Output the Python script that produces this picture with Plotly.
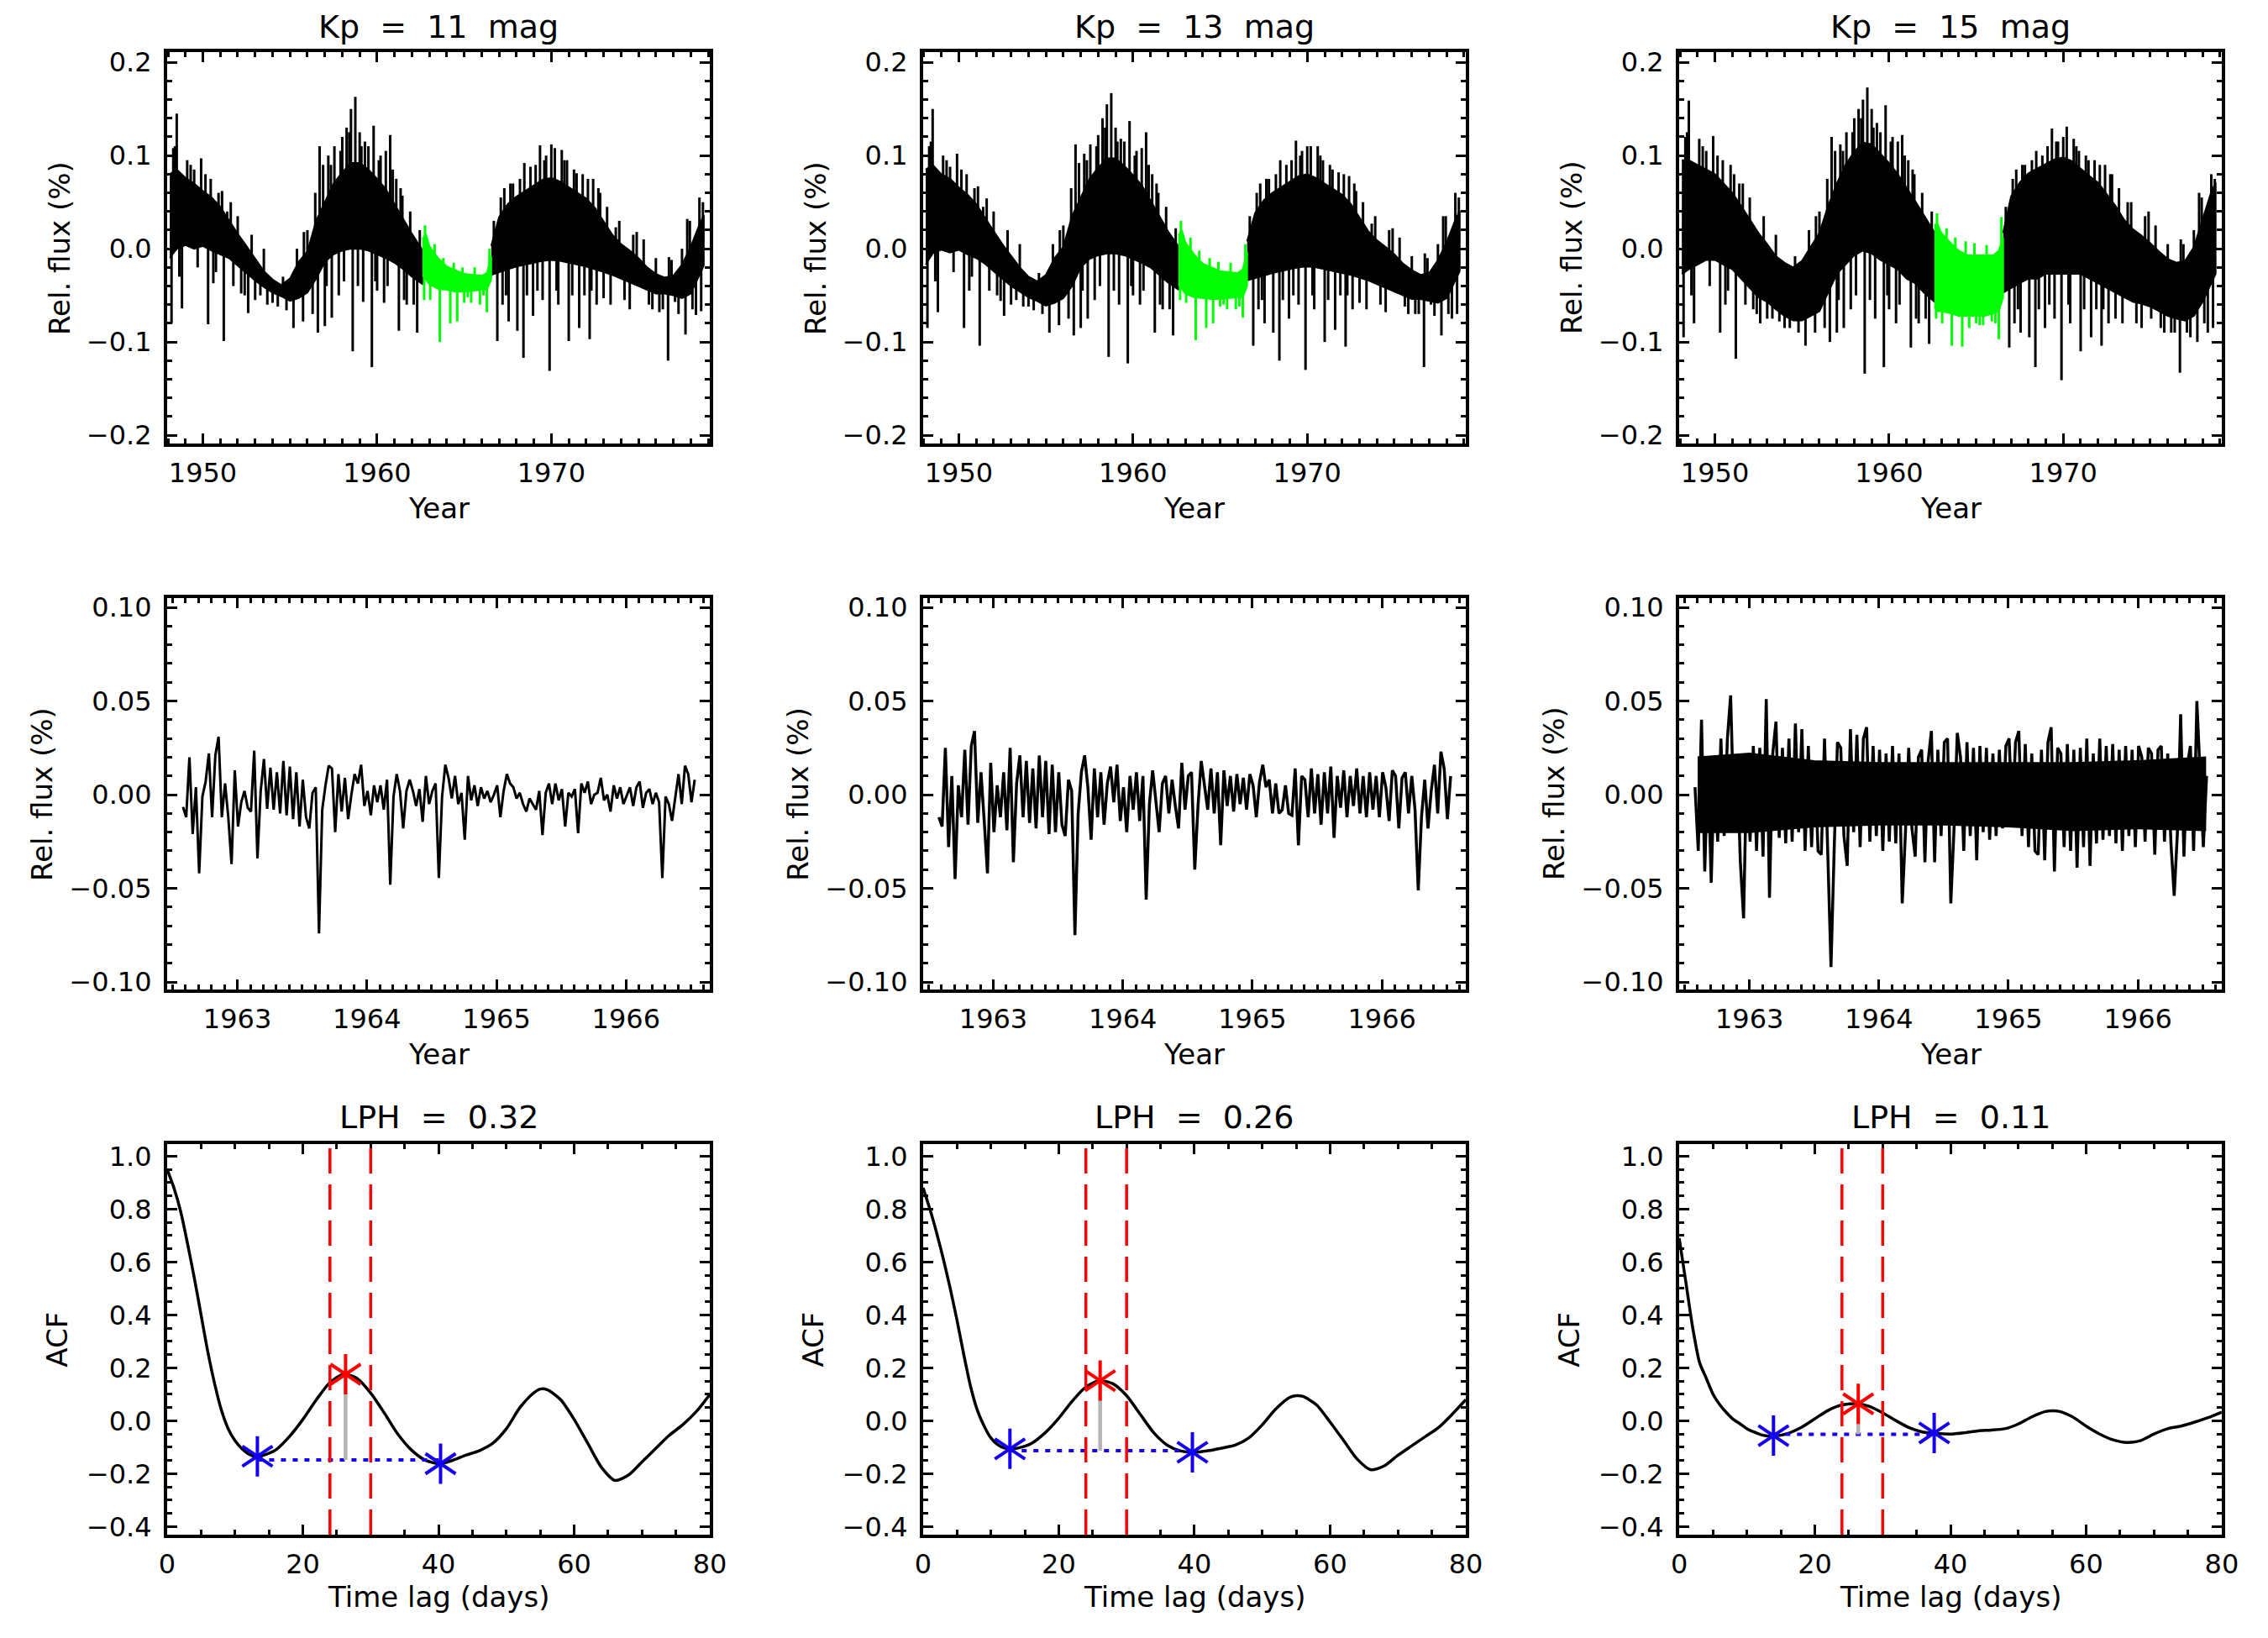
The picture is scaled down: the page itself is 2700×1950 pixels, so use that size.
import numpy as np
import plotly.graph_objects as go

FONT = "DejaVu Sans"
GREEN = "#00ff00"
BLUE = "#1400f0"

kp_mags = [11, 13, 15]
lph_values = [0.32, 0.26, 0.11]

# ---------------- TOP ROW: 30 yr light curves ----------------------------------
# the daily noise is far too dense to follow, so the black band is read as an
# upper / lower edge, and the spikes sticking out of it are listed separately
years_a = [1948.1, 1948.5, 1949.0, 1949.5, 1950.0, 1950.5, 1951.0, 1951.5, 1952.0, 1952.5,
           1953.0, 1953.5, 1954.0, 1954.5, 1955.0, 1955.5, 1956.0, 1956.5, 1957.0, 1957.5,
           1958.0, 1958.5, 1959.0, 1959.5, 1960.0, 1960.5, 1961.0, 1961.5, 1962.0, 1962.62]
years_g = [1962.6, 1962.8, 1963.0, 1963.5, 1964.0, 1964.5, 1965.0, 1965.5, 1966.0, 1966.3, 1966.55]
years_b = [1966.55, 1967.0, 1967.5, 1968.0, 1968.5, 1969.0, 1969.5, 1970.0, 1970.5, 1971.0,
           1971.5, 1972.0, 1972.5, 1973.0, 1973.5, 1974.0, 1974.5, 1975.0, 1975.5, 1976.0,
           1976.5, 1977.0, 1977.5, 1978.0, 1978.5, 1978.75]

hi_a_11 = [0.08, 0.085, 0.076, 0.07, 0.062, 0.055, 0.045, 0.03, 0.016, 0.003,
           -0.01, -0.024, -0.033, -0.039, -0.032, -0.014, -0.003, 0.03, 0.05, 0.07,
           0.082, 0.092, 0.092, 0.085, 0.075, 0.064, 0.048, 0.032, 0.016, -0.002]
lo_a_11 = [-0.01, 0.0, 0.004, 0.0, 0.003, -0.002, -0.006, -0.01, -0.018, -0.026,
           -0.034, -0.041, -0.047, -0.051, -0.056, -0.053, -0.047, -0.032, -0.014, -0.006,
           -0.002, 0.0, 0.0, -0.002, -0.006, -0.01, -0.015, -0.022, -0.03, -0.038]
hi_g_11 = [0.01, 0.016, 0.003, -0.01, -0.019, -0.023, -0.027, -0.028, -0.029, -0.026, -0.008]
lo_g_11 = [-0.028, -0.033, -0.038, -0.043, -0.044, -0.046, -0.046, -0.045, -0.044, -0.044, -0.033]
hi_b_11 = [0.003, 0.034, 0.048, 0.056, 0.062, 0.068, 0.074, 0.076, 0.072, 0.066,
           0.06, 0.054, 0.044, 0.03, 0.015, 0.005, -0.002, -0.01, -0.02, -0.027,
           -0.031, -0.029, -0.017, 0.002, 0.026, 0.036]
lo_b_11 = [-0.028, -0.025, -0.022, -0.019, -0.017, -0.015, -0.013, -0.012, -0.013, -0.015,
           -0.017, -0.019, -0.022, -0.025, -0.028, -0.032, -0.036, -0.04, -0.044, -0.048,
           -0.048, -0.05, -0.053, -0.048, -0.028, -0.018]

hi_a_13 = [0.085, 0.09, 0.08, 0.075, 0.066, 0.058, 0.048, 0.033, 0.019, 0.005,
           -0.007, -0.02, -0.03, -0.035, -0.028, -0.01, 0.002, 0.035, 0.055, 0.075,
           0.087, 0.097, 0.097, 0.089, 0.079, 0.068, 0.052, 0.036, 0.019, 0.002]
lo_a_13 = [-0.017, -0.005, -0.001, -0.004, -0.001, -0.006, -0.01, -0.016, -0.024, -0.032,
           -0.04, -0.046, -0.052, -0.056, -0.061, -0.058, -0.053, -0.04, -0.02, -0.011,
           -0.007, -0.005, -0.005, -0.007, -0.011, -0.015, -0.02, -0.028, -0.036, -0.044]
hi_g_13 = [0.014, 0.02, 0.007, -0.006, -0.016, -0.02, -0.024, -0.025, -0.026, -0.022, -0.003]
lo_g_13 = [-0.038, -0.043, -0.048, -0.052, -0.053, -0.054, -0.054, -0.053, -0.052, -0.052, -0.04]
hi_b_13 = [0.008, 0.038, 0.052, 0.06, 0.066, 0.072, 0.078, 0.08, 0.076, 0.07,
           0.064, 0.058, 0.048, 0.034, 0.019, 0.009, 0.002, -0.006, -0.016, -0.023,
           -0.028, -0.026, -0.012, 0.007, 0.031, 0.041]
lo_b_13 = [-0.034, -0.032, -0.029, -0.026, -0.024, -0.022, -0.02, -0.019, -0.02, -0.022,
           -0.024, -0.026, -0.028, -0.031, -0.034, -0.038, -0.042, -0.046, -0.05, -0.054,
           -0.054, -0.056, -0.058, -0.053, -0.034, -0.024]

hi_a_15 = [0.095, 0.095, 0.09, 0.085, 0.08, 0.07, 0.06, 0.046, 0.031, 0.017,
           0.005, -0.008, -0.015, -0.02, -0.013, 0.002, 0.017, 0.046, 0.07, 0.09,
           0.104, 0.114, 0.112, 0.102, 0.092, 0.08, 0.066, 0.051, 0.036, 0.017]
lo_a_15 = [-0.027, -0.022, -0.017, -0.012, -0.012, -0.017, -0.022, -0.032, -0.042, -0.052,
           -0.057, -0.065, -0.072, -0.077, -0.077, -0.072, -0.067, -0.047, -0.027, -0.017,
           -0.007, -0.002, -0.005, -0.012, -0.017, -0.022, -0.032, -0.037, -0.047, -0.057]
hi_g_15 = [0.026, 0.026, 0.017, 0.007, -0.002, -0.007, -0.007, -0.007, -0.007, -0.002, 0.012]
lo_g_15 = [-0.062, -0.067, -0.067, -0.069, -0.072, -0.072, -0.072, -0.072, -0.069, -0.067, -0.052]
hi_b_15 = [0.017, 0.056, 0.071, 0.081, 0.086, 0.091, 0.096, 0.098, 0.094, 0.086,
           0.078, 0.071, 0.058, 0.046, 0.031, 0.021, 0.014, 0.006, -0.003, -0.011,
           -0.015, -0.013, 0.002, 0.031, 0.061, 0.071]
lo_b_15 = [-0.047, -0.042, -0.037, -0.032, -0.032, -0.027, -0.027, -0.027, -0.027, -0.027,
           -0.032, -0.037, -0.042, -0.047, -0.052, -0.057, -0.059, -0.062, -0.067, -0.072,
           -0.075, -0.077, -0.072, -0.057, -0.037, -0.027]

# spikes: same dates in all three stars (same solar record), depth grows with Kp
spike_years = [1948.2, 1948.3, 1948.5, 1948.8, 1949.1, 1949.5, 1949.9, 1950.3, 1950.6, 1950.9,
               1951.2, 1951.4, 1952.2, 1952.6, 1953.0, 1953.7, 1954.3, 1955.2, 1955.75, 1955.8,
               1956.6, 1956.7, 1956.9, 1957.0, 1957.2, 1957.4, 1957.55, 1957.8, 1958.0, 1958.25,
               1958.5, 1958.6, 1958.75, 1959.0, 1959.2, 1959.3, 1959.7, 1959.8, 1960.0, 1960.2,
               1960.4, 1960.5, 1960.75, 1961.1, 1961.25, 1961.45, 1961.7, 1962.3, 1962.7, 1963.05,
               1963.6, 1964.2, 1964.6, 1965.0, 1965.4, 1965.9, 1966.3, 1966.9, 1967.2, 1967.3,
               1967.55, 1967.8, 1968.05, 1968.4, 1968.45, 1968.8, 1968.95, 1969.35, 1969.5, 1969.7,
               1969.9, 1970.0, 1970.2, 1970.4, 1970.6, 1970.9, 1971.0, 1971.45, 1971.6, 1971.8,
               1972.2, 1972.4, 1972.6, 1972.8, 1973.0, 1973.7, 1974.5, 1974.9, 1975.05, 1975.6,
               1976.2, 1976.7, 1976.75, 1977.1, 1977.7, 1977.8, 1978.3, 1978.5, 1978.6]
spike_11 = [-0.080, 0.108, 0.145, -0.064, 0.095, 0.085, 0.097, -0.081, -0.037, 0.060,
            -0.099, 0.040, -0.048, -0.069, -0.055, -0.060, -0.062, -0.085, -0.078, 0.018,
            -0.090, 0.110, 0.090, -0.083, 0.100, -0.074, 0.110, -0.050, 0.120, 0.130,
            0.150, -0.110, 0.163, 0.125, -0.057, 0.115, -0.127, 0.132, -0.045, 0.100,
            -0.058, 0.105, 0.122, 0.075, -0.088, 0.057, -0.060, -0.090, -0.055, -0.055,
            -0.100, -0.080, -0.078, -0.058, -0.058, -0.060, -0.068, -0.099, -0.060, 0.065,
            -0.078, 0.070, -0.088, -0.117, 0.092, 0.088, -0.072, 0.111, -0.055, 0.100,
            -0.131, 0.112, 0.108, -0.060, 0.106, 0.095, -0.099, 0.081, -0.085, 0.080,
            -0.097, 0.075, -0.060, 0.060, -0.053, 0.023, -0.065, 0.018, -0.037, -0.060,
            -0.068, -0.120, -0.009, -0.057, -0.092, 0.032, -0.071, 0.055, -0.067]
spike_13 = [-0.085, 0.110, 0.150, -0.068, 0.100, 0.088, 0.102, -0.085, -0.045, 0.065,
            -0.104, 0.045, -0.050, -0.072, -0.060, -0.062, -0.066, -0.090, -0.082, 0.020,
            -0.093, 0.112, 0.092, -0.085, 0.102, -0.075, 0.112, -0.055, 0.122, 0.140,
            0.155, -0.116, 0.167, 0.130, -0.060, 0.118, -0.123, 0.137, -0.050, 0.105,
            -0.060, 0.108, 0.125, 0.080, -0.090, 0.060, -0.065, -0.093, -0.055, -0.058,
            -0.098, -0.085, -0.080, -0.062, -0.065, -0.065, -0.074, -0.104, -0.065, 0.070,
            -0.080, 0.075, -0.090, -0.120, 0.095, 0.090, -0.075, 0.116, -0.060, 0.105,
            -0.130, 0.110, 0.110, -0.065, 0.110, 0.095, -0.100, 0.085, -0.087, 0.082,
            -0.105, 0.078, -0.065, 0.062, -0.058, 0.027, -0.068, 0.022, -0.040, -0.062,
            -0.070, -0.127, -0.005, -0.060, -0.093, 0.035, -0.075, 0.060, -0.070]
spike_15 = [-0.095, 0.120, 0.159, -0.080, 0.118, 0.105, 0.121, -0.090, -0.060, 0.090,
            -0.118, 0.070, -0.065, -0.080, -0.075, -0.078, -0.085, -0.104, -0.090, 0.035,
            -0.100, 0.120, 0.105, -0.090, 0.112, -0.085, 0.125, -0.065, 0.140, 0.150,
            0.160, -0.134, 0.173, 0.150, -0.075, 0.135, -0.127, 0.154, -0.065, 0.120,
            -0.080, 0.115, 0.122, 0.095, -0.106, 0.080, -0.080, -0.102, -0.075, -0.080,
            -0.104, -0.105, -0.085, -0.080, -0.082, -0.078, -0.097, -0.106, -0.080, 0.085,
            -0.090, 0.090, -0.095, -0.127, 0.105, 0.100, -0.085, 0.129, -0.075, 0.115,
            -0.141, 0.120, 0.131, -0.080, 0.118, 0.105, -0.110, 0.095, -0.095, 0.095,
            -0.104, 0.090, -0.080, 0.080, -0.075, 0.050, -0.085, 0.040, -0.075, -0.085,
            -0.090, -0.133, 0.010, -0.090, -0.100, 0.060, -0.090, 0.080, -0.085]

# smaller excursions that make the ragged edge of the band
fringe_years = [1948.4, 1948.65, 1949.3, 1949.7, 1950.15, 1950.45, 1950.75, 1951.1, 1951.6, 1951.75,
                1952.0, 1952.4, 1952.8, 1953.3, 1953.5, 1954.0, 1954.6, 1954.8, 1955.4, 1956.0,
                1956.3, 1956.45, 1957.1, 1957.35, 1957.9, 1958.1, 1958.4, 1958.9, 1959.1, 1959.5,
                1959.9, 1960.1, 1960.6, 1960.9, 1961.35, 1961.55, 1961.9, 1962.1, 1962.45, 1962.75,
                1963.3, 1963.8, 1964.4, 1964.9, 1965.2, 1965.6, 1966.1, 1966.45, 1966.7, 1967.1,
                1967.4, 1967.65, 1968.2, 1968.6, 1969.1, 1969.2, 1969.6, 1970.3, 1970.75, 1971.2,
                1971.3, 1971.9, 1972.1, 1972.3, 1972.7, 1973.2, 1973.4, 1973.9, 1974.2, 1974.7,
                1975.3, 1975.8, 1976.0, 1976.4, 1976.9, 1977.3, 1977.5, 1977.95, 1978.1, 1978.7]
fringe_11 = [0.110, -0.030, 0.090, -0.020, 0.080, 0.075, -0.025, 0.062, 0.050, -0.040,
             0.035, -0.050, 0.015, -0.050, 0.000, -0.058, -0.030, -0.066, 0.000, 0.020,
             -0.070, 0.060, -0.040, 0.090, 0.105, -0.035, 0.125, -0.040, 0.110, 0.110,
             -0.035, 0.095, -0.040, 0.085, 0.065, -0.055, 0.040, -0.060, 0.020, 0.025,
             0.005, -0.010, -0.015, -0.020, -0.052, -0.020, -0.050, 0.000, 0.030, 0.055,
             -0.050, 0.070, 0.075, -0.050, 0.090, -0.045, 0.095, -0.045, 0.095, -0.050,
             0.085, -0.050, 0.075, -0.045, 0.065, 0.045, -0.060, 0.030, -0.055, 0.015,
             0.010, -0.065, -0.010, -0.065, -0.012, -0.070, 0.000, 0.030, -0.065, 0.050]
fringe_13 = [0.115, -0.035, 0.095, -0.025, 0.085, 0.080, -0.030, 0.067, 0.054, -0.045,
             0.040, -0.056, 0.020, -0.055, 0.005, -0.062, -0.026, -0.070, 0.005, 0.025,
             -0.075, 0.065, -0.045, 0.095, 0.110, -0.040, 0.130, -0.045, 0.115, 0.115,
             -0.040, 0.100, -0.045, 0.090, 0.070, -0.060, 0.045, -0.065, 0.022, 0.030,
             0.012, -0.002, -0.010, -0.014, -0.060, -0.015, -0.062, 0.005, 0.035, 0.060,
             -0.055, 0.075, 0.080, -0.055, 0.095, -0.050, 0.100, -0.050, 0.100, -0.055,
             0.090, -0.050, 0.080, -0.050, 0.070, 0.050, -0.065, 0.035, -0.060, 0.020,
             0.012, -0.070, -0.008, -0.070, -0.010, -0.072, 0.005, 0.035, -0.070, 0.055]
fringe_15 = [0.125, -0.050, 0.110, -0.040, 0.100, 0.095, -0.045, 0.080, 0.070, -0.060,
             0.055, -0.070, 0.035, -0.075, 0.015, -0.085, -0.008, -0.090, 0.020, 0.040,
             -0.085, 0.075, -0.055, 0.105, 0.125, -0.050, 0.140, -0.055, 0.130, 0.125,
             -0.050, 0.115, -0.060, 0.100, 0.085, -0.075, 0.060, -0.075, 0.040, 0.038,
             0.022, 0.012, 0.008, 0.006, -0.082, 0.004, -0.080, 0.034, 0.045, 0.075,
             -0.065, 0.090, 0.095, -0.065, 0.110, -0.060, 0.115, -0.060, 0.110, -0.065,
             0.100, -0.065, 0.090, -0.065, 0.080, 0.065, -0.080, 0.050, -0.080, 0.035,
             0.025, -0.090, 0.005, -0.090, 0.005, -0.095, 0.020, 0.055, -0.080, 0.075]

# ---------------- MIDDLE ROW: the green stretch, detrended ----------------------
mid_start = 1962.58
mid_step = 0.025
mid_11 = [-0.0065, -0.012, 0.020, -0.021, 0.004, -0.042, -0.001, 0.007, 0.022, -0.012,
          0.021, 0.031, -0.012, 0.006, -0.012, -0.037, 0.013, -0.017, -0.004, 0.002,
          -0.007, -0.009, 0.0235, -0.034, 0.002, 0.019, -0.0075, 0.0145, -0.008, 0.012,
          -0.010, 0.018, -0.011, 0.015, -0.013, 0.012, -0.017, 0.008, -0.012, -0.018,
          0.001, 0.004, -0.074, -0.008, 0.005, 0.0155, 0.014, -0.020, 0.011, -0.009,
          0.009, -0.013, 0.000, 0.011, 0.006, 0.016, -0.006, 0.002, -0.011, 0.005,
          -0.004, 0.005, -0.008, 0.008, -0.048, -0.001, 0.011, 0.002, -0.018, 0.002,
          0.008, 0.002, -0.006, 0.003, -0.0145, 0.010, -0.005, 0.002, 0.006, -0.0445,
          -0.001, 0.016, 0.009, -0.002, 0.010, -0.005, 0.001, -0.024, 0.010, -0.003,
          0.005, -0.006, 0.004, -0.002, 0.002, -0.004, 0.000, 0.005, -0.012, 0.002,
          0.011, 0.006, 0.004, -0.002, 0.001, -0.005, -0.009, -0.002, -0.005, -0.008,
          0.002, -0.0215, 0.001, 0.006, -0.005, 0.006, -0.003, 0.003, -0.017, 0.001,
          -0.001, 0.003, -0.0205, 0.006, 0.001, 0.007, -0.005, 0.000, 0.001, 0.009,
          -0.003, 0.000, -0.009, 0.005, -0.002, 0.004, -0.005, 0.000, 0.004, -0.006,
          0.004, 0.007, -0.007, 0.001, 0.003, -0.005, 0.001, -0.004, -0.0445, -0.001,
          -0.005, -0.014, -0.001, 0.011, -0.005, 0.0155, 0.011, -0.004, 0.008]
mid_13 = [-0.012, -0.017, 0.025, -0.028, 0.010, -0.045, 0.005, -0.012, 0.024, -0.016,
          0.026, 0.034, -0.015, 0.012, -0.014, -0.042, 0.017, -0.020, 0.005, -0.012,
          0.012, -0.019, 0.025, -0.036, 0.006, 0.021, -0.012, 0.018, -0.015, 0.014,
          -0.018, 0.021, -0.012, 0.018, -0.021, 0.016, -0.020, 0.012, -0.016, -0.022,
          0.008, 0.002, -0.075, -0.010, 0.012, 0.021, 0.004, -0.024, 0.014, -0.012,
          0.012, -0.016, 0.006, 0.015, -0.004, 0.016, -0.014, 0.004, -0.020, 0.010,
          -0.008, 0.012, -0.014, 0.010, -0.056, -0.005, 0.013, -0.002, -0.020, 0.006,
          0.010, -0.010, 0.008, -0.006, -0.018, 0.017, -0.008, 0.010, 0.012, -0.040,
          -0.006, 0.018, 0.005, -0.008, 0.014, -0.010, 0.012, -0.027, 0.013, -0.006,
          0.010, -0.009, 0.011, -0.005, 0.009, -0.008, 0.011, 0.005, -0.012, 0.007,
          0.016, 0.004, 0.008, -0.010, 0.006, -0.010, -0.008, 0.005, -0.010, -0.011,
          0.014, -0.027, 0.010, 0.008, -0.012, 0.014, -0.010, 0.011, -0.016, 0.012,
          -0.010, 0.015, -0.023, 0.010, -0.007, 0.013, -0.012, 0.010, -0.006, 0.014,
          -0.010, 0.010, -0.012, 0.012, -0.008, 0.010, -0.012, 0.012, 0.004, -0.014,
          0.013, 0.010, -0.018, 0.009, 0.012, -0.010, 0.010, -0.008, -0.051, -0.012,
          0.008, -0.018, 0.002, 0.016, -0.010, 0.023, 0.014, -0.013, 0.010]
mid_15 = [0.004, -0.030, 0.040, -0.041, 0.017, -0.047, 0.015, -0.025, 0.030, -0.022,
          0.030, 0.053, -0.012, 0.020, -0.036, -0.066, 0.018, -0.025, 0.026, -0.030,
          0.025, -0.033, 0.051, -0.055, 0.022, 0.039, -0.023, 0.025, -0.026, 0.030,
          -0.025, 0.038, -0.020, 0.035, -0.030, 0.026, -0.028, 0.018, -0.030, -0.032,
          0.030, -0.035, -0.092, -0.028, 0.028, 0.025, -0.022, -0.038, 0.035, -0.020,
          0.032, -0.028, 0.030, 0.036, -0.025, 0.026, -0.022, 0.024, -0.030, 0.022,
          -0.025, 0.026, -0.026, 0.022, -0.058, -0.020, 0.025, -0.018, -0.033, 0.020,
          0.024, -0.036, 0.018, 0.034, -0.036, 0.024, -0.022, 0.028, 0.030, -0.058,
          -0.018, 0.033, 0.020, -0.030, 0.028, -0.022, 0.025, -0.035, 0.026, -0.020,
          0.025, -0.024, 0.022, -0.022, 0.024, -0.018, 0.026, 0.030, -0.012, 0.028,
          0.034, -0.022, 0.027, -0.028, 0.022, -0.030, -0.032, 0.024, -0.035, 0.028,
          0.036, -0.041, 0.025, 0.022, -0.028, 0.027, -0.030, 0.024, -0.039, 0.025,
          -0.028, 0.030, -0.038, 0.022, -0.026, 0.030, -0.024, 0.026, -0.022, 0.027,
          -0.026, 0.024, -0.030, 0.026, -0.022, 0.024, -0.028, 0.026, 0.020, -0.025,
          0.025, 0.022, -0.032, 0.024, 0.026, -0.025, 0.022, -0.026, -0.054, -0.020,
          0.043, -0.033, 0.015, 0.026, -0.030, 0.050, 0.015, -0.028, 0.010]

# solid core of the densest curve (Kp = 15)
core_years = [1962.6, 1963.0, 1963.5, 1964.0, 1964.5, 1965.0, 1965.5, 1966.0, 1966.52]
core_hi_15 = [0.020, 0.022, 0.018, 0.017, 0.017, 0.017, 0.017, 0.018, 0.020]
core_lo_15 = [-0.020, -0.020, -0.017, -0.016, -0.016, -0.017, -0.019, -0.018, -0.019]

# ---------------- BOTTOM ROW: autocorrelation functions -------------------------
acf_lag = [0, 1, 2, 3, 4, 5, 6, 7, 8, 9, 10, 11, 12, 13, 14, 16, 18, 20, 22, 24,
           26, 28, 30, 32, 34, 36, 38, 40, 42, 44, 46, 48, 50, 52, 54, 55, 56, 58, 60, 62,
           64, 66, 68, 70, 72, 74, 76, 78, 80]
acf_11 = [0.95, 0.88, 0.79, 0.67, 0.54, 0.40, 0.26, 0.14, 0.04, -0.03, -0.075, -0.105, -0.125,
          -0.134, -0.132, -0.11, -0.06, 0.005, 0.08, 0.145, 0.176, 0.16, 0.105, 0.03, -0.05,
          -0.11, -0.148, -0.162, -0.15, -0.13, -0.113, -0.085, -0.03, 0.05, 0.105, 0.12, 0.118,
          0.08, 0.005, -0.085, -0.175, -0.225, -0.205, -0.155, -0.105, -0.055, -0.015, 0.035, 0.1]
acf_13 = [0.88, 0.80, 0.71, 0.61, 0.50, 0.38, 0.25, 0.13, 0.04, -0.02, -0.065, -0.09, -0.103,
          -0.106, -0.103, -0.085, -0.045, 0.01, 0.075, 0.128, 0.152, 0.14, 0.095, 0.025, -0.045,
          -0.092, -0.114, -0.119, -0.113, -0.103, -0.092, -0.065, -0.015, 0.045, 0.088, 0.095, 0.092,
          0.06, -0.005, -0.075, -0.145, -0.185, -0.17, -0.13, -0.095, -0.06, -0.025, 0.025, 0.08]
acf_15 = [0.69, 0.52, 0.35, 0.22, 0.16, 0.10, 0.06, 0.03, 0.005, -0.012, -0.03, -0.042, -0.052,
          -0.057, -0.058, -0.048, -0.025, 0.008, 0.04, 0.06, 0.065, 0.055, 0.03, 0.0, -0.027,
          -0.043, -0.048, -0.05, -0.045, -0.038, -0.035, -0.03, -0.012, 0.015, 0.035, 0.038, 0.036,
          0.015, -0.02, -0.05, -0.072, -0.082, -0.075, -0.05, -0.03, -0.02, -0.005, 0.012, 0.033]

period_window = [24, 30]
peak_lag = [26.3, 26.1, 26.4]
peak_acf = [0.176, 0.152, 0.064]
left_lag = [13.3, 12.8, 13.9]
left_acf = [-0.134, -0.106, -0.056]
right_lag = [40.3, 39.7, 37.6]
right_acf = [-0.162, -0.119, -0.046]

top_bands = [
    (hi_a_11, lo_a_11, hi_g_11, lo_g_11, hi_b_11, lo_b_11, spike_11, fringe_11),
    (hi_a_13, lo_a_13, hi_g_13, lo_g_13, hi_b_13, lo_b_13, spike_13, fringe_13),
    (hi_a_15, lo_a_15, hi_g_15, lo_g_15, hi_b_15, lo_b_15, spike_15, fringe_15),
]
mid_series = [mid_11, mid_13, mid_15]
mid_width = [3, 3.5, 3.5]
mid_cores = [None, None, (core_hi_15, core_lo_15)]
acf_series = [acf_11, acf_13, acf_15]

# layout of the 3x3 grid (paper fractions)
col_dom = [[0.0737, 0.3130], [0.4070, 0.6463], [0.7404, 0.9796]]
row_dom = [[0.7292, 0.9682], [0.3959, 0.6349], [0.0631, 0.3013]]


def ax_names(k):
    n = '' if k == 1 else str(k)
    return 'x' + n, 'y' + n


def axis(rng, dtick, minor, fmt=None):
    return dict(range=rng, dtick=dtick, tick0=0, tickformat=fmt, showline=True,
                linecolor='black', linewidth=4, mirror='allticks', ticks='inside',
                ticklen=12, tickwidth=3, tickcolor='black', showgrid=False, zeroline=False,
                tickfont=dict(family=FONT, size=32, color='black'), automargin=False,
                minor=dict(dtick=minor, ticks='inside', ticklen=6, tickwidth=3,
                           tickcolor='black', showgrid=False))


def band(xs, hi, lo, color, xa, ya):
    return go.Scatter(x=list(xs) + list(xs)[::-1], y=list(hi) + list(lo)[::-1],
                      fill='toself', fillcolor=color, mode='lines',
                      line=dict(color=color, width=2), xaxis=xa, yaxis=ya, hoverinfo='skip')


fig = go.Figure()
layout = {}
notes = []

for c in range(3):
    hi_a, lo_a, hi_g, lo_g, hi_b, lo_b, spikes, fringe = top_bands[c]

    # ---- top panel
    k = c + 1
    xa, ya = ax_names(k)
    fig.add_trace(band(years_a, hi_a, lo_a, 'black', xa, ya))
    fig.add_trace(band(years_b, hi_b, lo_b, 'black', xa, ya))
    fig.add_trace(band(years_g, hi_g, lo_g, GREEN, xa, ya))

    sx = {'black': [], GREEN: []}
    sy = {'black': [], GREEN: []}
    for yr, val in zip(spike_years + fringe_years, spikes + fringe):
        if years_g[0] <= yr <= years_g[-1]:
            yrs, hi, lo, col = years_g, hi_g, lo_g, GREEN
        elif yr < years_g[0]:
            yrs, hi, lo, col = years_a, hi_a, lo_a, 'black'
        else:
            yrs, hi, lo, col = years_b, hi_b, lo_b, 'black'
        i = int(np.argmin(np.abs(np.array(yrs) - yr)))
        sx[col] += [yr, yr, None]
        sy[col] += [0.5 * (hi[i] + lo[i]), val, None]
    for col in sx:
        fig.add_trace(go.Scatter(x=sx[col], y=sy[col], mode='lines',
                                 line=dict(color=col, width=3), xaxis=xa, yaxis=ya))

    layout['xaxis' + xa[1:]] = dict(axis([1947.95, 1979.1], 10, 1), domain=col_dom[c], anchor=ya,
                                    ticklabelstandoff=4)
    layout['yaxis' + ya[1:]] = dict(axis([-0.209, 0.211], 0.1, 0.02, '.1f'), domain=row_dom[0],
                                    anchor=xa, ticklabelstandoff=8)
    notes.append(dict(text='Kp\u00a0\u00a0=\u00a0\u00a0%d\u00a0\u00a0mag' % kp_mags[c],
                      xref=xa + ' domain', yref=ya + ' domain', x=0.5, y=1,
                      yanchor='bottom', yshift=6, font_size=38))
    notes.append(dict(text='Year', xref=xa + ' domain', yref=ya + ' domain', x=0.5, y=0,
                      yanchor='middle', yshift=-77, font_size=34))
    notes.append(dict(text='Rel.\u00a0flux\u00a0(%)', xref=xa + ' domain', yref=ya + ' domain',
                      x=0, y=0.5, xanchor='center', xshift=-128, textangle=-90, font_size=34))

    # ---- middle panel
    k = c + 4
    xa, ya = ax_names(k)
    vals = mid_series[c]
    t = mid_start + mid_step * np.arange(len(vals))
    if mid_cores[c] is not None:
        fig.add_trace(band(core_years, mid_cores[c][0], mid_cores[c][1], 'black', xa, ya))
    fig.add_trace(go.Scatter(x=t, y=vals, mode='lines',
                             line=dict(color='black', width=mid_width[c]), xaxis=xa, yaxis=ya))
    layout['xaxis' + xa[1:]] = dict(axis([1962.458, 1966.647], 1, 0.1), domain=col_dom[c],
                                    anchor=ya, ticklabelstandoff=4)
    layout['yaxis' + ya[1:]] = dict(axis([-0.104, 0.105], 0.05, 0.01, '.2f'), domain=row_dom[1],
                                    anchor=xa, ticklabelstandoff=8)
    notes.append(dict(text='Year', xref=xa + ' domain', yref=ya + ' domain', x=0.5, y=0,
                      yanchor='middle', yshift=-77, font_size=34))
    notes.append(dict(text='Rel.\u00a0flux\u00a0(%)', xref=xa + ' domain', yref=ya + ' domain',
                      x=0, y=0.5, xanchor='center', xshift=-149, textangle=-90, font_size=34))

    # ---- bottom panel
    k = c + 7
    xa, ya = ax_names(k)
    fig.add_trace(go.Scatter(x=acf_lag, y=acf_series[c], mode='lines',
                             line=dict(color='black', width=3.5, shape='spline', smoothing=0.7),
                             xaxis=xa, yaxis=ya))
    for p in period_window:
        fig.add_shape(type='line', xref=xa, yref=ya + ' domain', x0=p, x1=p, y0=0, y1=1,
                      line=dict(color='red', width=3.5, dash='30px,13px'))
    base = 0.5 * (left_acf[c] + right_acf[c])
    fig.add_trace(go.Scatter(x=[left_lag[c], right_lag[c]], y=[base, base], mode='lines',
                             line=dict(color=BLUE, width=4, dash='6px,8px'), xaxis=xa, yaxis=ya))
    fig.add_trace(go.Scatter(x=[peak_lag[c], peak_lag[c]], y=[base, peak_acf[c]], mode='lines',
                             line=dict(color='#b4b4b4', width=4.5), xaxis=xa, yaxis=ya))
    for lx, ly, col in [(left_lag[c], left_acf[c], BLUE), (right_lag[c], right_acf[c], BLUE),
                        (peak_lag[c], peak_acf[c], 'red')]:
        fig.add_trace(go.Scatter(x=[lx, lx], y=[ly, ly], mode='markers', xaxis=xa, yaxis=ya,
                                 marker=dict(symbol=['y-up-open', 'y-down-open'], size=30,
                                             color=col, line=dict(color=col, width=4))))
    layout['xaxis' + xa[1:]] = dict(axis([0, 80], 20, 5), domain=col_dom[c], anchor=ya,
                                    ticklabelstandoff=4)
    layout['yaxis' + ya[1:]] = dict(axis([-0.43, 1.044], 0.2, 0.05, '.1f'), domain=row_dom[2],
                                    anchor=xa, ticklabelstandoff=8)
    notes.append(dict(text='LPH\u00a0\u00a0=\u00a0\u00a0%.2f' % lph_values[c],
                      xref=xa + ' domain', yref=ya + ' domain', x=0.5, y=1,
                      yanchor='bottom', yshift=8, font_size=38))
    notes.append(dict(text='Time\u00a0lag\u00a0(days)', xref=xa + ' domain', yref=ya + ' domain',
                      x=0.5, y=0, yanchor='middle', yshift=-74, font_size=34))
    notes.append(dict(text='ACF', xref=xa + ' domain', yref=ya + ' domain',
                      x=0, y=0.5, xanchor='center', xshift=-131, textangle=-90, font_size=34))

for n in notes:
    n.setdefault('showarrow', False)
    n['font'] = dict(family=FONT, size=n.pop('font_size'), color='black')

fig.update_layout(**layout)
fig.update_layout(
    width=2700, height=1950,
    margin=dict(l=0, r=0, t=0, b=0),
    paper_bgcolor='white', plot_bgcolor='white',
    showlegend=False,
    annotations=notes,
)

fig.write_html("out.html", config={'displayModeBar': False},
               post_script="document.body.style.margin='0px';")
